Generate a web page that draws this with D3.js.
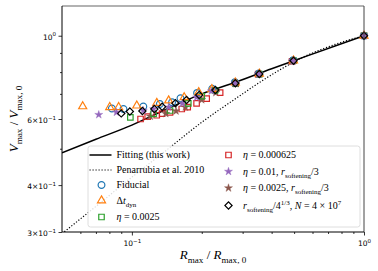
<!DOCTYPE html>
<html lang="en">
<head>
  <meta charset="UTF-8" />
  <title>Vmax - Rmax tidal track</title>
  <script src="https://cdn.jsdelivr.net/npm/d3@7"></script>
  <style>
    body { margin: 0; background: #fff; }
    text { font-family: "Liberation Serif", "DejaVu Serif", serif; }
    .tick text { font-family: "DejaVu Sans", sans-serif; font-size: 7.5px; }
  </style>
</head>
<body>
  <div class="chart"></div>
  <script>
    // fitting curve and Penarrubia et al. 2010 track
    var fitX = [0.05, 0.07, 0.1, 0.14, 0.2, 0.28, 0.4, 0.55, 0.75, 1];
    var fitY = [0.488, 0.530, 0.578, 0.636, 0.700, 0.752, 0.817, 0.877, 0.939, 1];
    var penX = [0.05, 0.07, 0.1, 0.14, 0.2, 0.28, 0.4, 0.55, 0.75, 1];
    var penY = [0.297, 0.351, 0.420, 0.494, 0.588, 0.680, 0.787, 0.878, 0.948, 1];

    // simulation runs
    var fidX = [0.082, 0.092, 0.112, 0.132, 0.149, 0.162, 0.191, 0.222, 0.278, 0.352, 0.495, 1];
    var fidY = [0.640, 0.638, 0.648, 0.658, 0.665, 0.681, 0.704, 0.722, 0.752, 0.793, 0.860, 1];
    var dtX = [0.0614, 0.0803, 0.0877, 0.105, 0.128, 0.144, 0.168, 0.194, 0.221, 0.279, 0.354, 0.497, 1];
    var dtY = [0.648, 0.645, 0.645, 0.651, 0.662, 0.672, 0.685, 0.707, 0.720, 0.750, 0.792, 0.858, 1];
    var eta1X = [0.0985, 0.124, 0.146, 0.175, 0.200, 0.228, 0.279, 0.354, 0.497, 1];
    var eta1Y = [0.606, 0.619, 0.632, 0.660, 0.690, 0.715, 0.746, 0.790, 0.858, 1];
    var eta2X = [0.109, 0.117, 0.128, 0.135, 0.146, 0.164, 0.174, 0.190, 0.210, 0.240, 0.280, 0.350, 0.490, 1];
    var eta2Y = [0.600, 0.609, 0.614, 0.620, 0.625, 0.638, 0.645, 0.660, 0.680, 0.705, 0.745, 0.790, 0.855, 1];
    var soft1X = [0.072, 0.0858, 0.112, 0.124, 0.144, 0.165, 0.190, 0.220, 0.278, 0.352, 0.495, 1];
    var soft1Y = [0.616, 0.625, 0.632, 0.638, 0.645, 0.660, 0.685, 0.712, 0.748, 0.790, 0.857, 1];
    var soft2X = [0.120, 0.140, 0.155, 0.170, 0.200, 0.230, 0.280, 0.350, 0.490, 1];
    var soft2Y = [0.610, 0.620, 0.630, 0.645, 0.675, 0.705, 0.745, 0.790, 0.855, 1];
    var hiresX = [0.090, 0.098, 0.111, 0.125, 0.135, 0.154, 0.172, 0.195, 0.229, 0.279, 0.354, 0.497, 1];
    var hiresY = [0.621, 0.628, 0.630, 0.638, 0.647, 0.661, 0.674, 0.695, 0.717, 0.747, 0.791, 0.858, 1];

    var yTickVals = [1, 0.6, 0.4, 0.3];
    var yTickLabels = [["10", "0"], ["6\u00d710", "\u22121"], ["4\u00d710", "\u22121"], ["3\u00d710", "\u22121"]];
    var xTickVals = [0.1, 1];
    var xTickLabels = [["10", "\u22121"], ["10", "0"]];

    var w = 378, h = 271;
    var margin = {left: 62, right: 14, top: 6, bottom: 39};
    var iw = w - margin.left - margin.right,
      ih = h - margin.top - margin.bottom;

    var svg = d3.select(".chart").append("svg")
      .attr("width", w)
      .attr("height", h);

    var x = d3.scaleLog().domain([0.05, 1]).range([0, iw]);
    var y = d3.scaleLog().domain([0.3, 1.2]).range([ih, 0]);

    var g = svg.append("g")
      .attr("transform", "translate(" + margin.left + "," + margin.top + ")");

    g.append("clipPath").attr("id", "clip")
      .append("rect").attr("width", iw).attr("height", ih);

    // axes: minor ticks first, then major ticks with labels
    var xMinor = [0.06, 0.07, 0.08, 0.09, 0.2, 0.3, 0.4, 0.5, 0.6, 0.7, 0.8, 0.9];
    var yMinor = [0.5, 0.7, 0.8, 0.9];

    g.append("g").attr("transform", "translate(0," + ih + ")")
      .call(d3.axisBottom(x).tickValues(xMinor).tickSize(2).tickFormat(""))
      .call(function(s) { s.select(".domain").remove(); });
    g.append("g")
      .call(d3.axisLeft(y).tickValues(yMinor).tickSize(2).tickFormat(""))
      .call(function(s) { s.select(".domain").remove(); });

    var xAxis = g.append("g").attr("transform", "translate(0," + ih + ")")
      .call(d3.axisBottom(x).tickValues(xTickVals).tickSize(3.5).tickFormat(""));
    xAxis.select(".domain").remove();
    xAxis.selectAll(".tick").append("text")
      .attr("fill", "#000")
      .attr("y", 14)
      .attr("text-anchor", "middle")
      .each(function(d, i) {
        var t = d3.select(this);
        t.append("tspan").text(xTickLabels[i][0]);
        t.append("tspan").attr("dy", -3.5).style("font-size", "5.5px").text(xTickLabels[i][1]);
      });

    var yAxis = g.append("g")
      .call(d3.axisLeft(y).tickValues(yTickVals).tickSize(3.5).tickFormat(""));
    yAxis.select(".domain").remove();
    yAxis.selectAll(".tick").append("text")
      .attr("fill", "#000")
      .attr("x", -6)
      .attr("y", 3.5)
      .attr("text-anchor", "end")
      .each(function(d, i) {
        var t = d3.select(this);
        t.append("tspan").text(yTickLabels[i][0]);
        t.append("tspan").attr("dy", -3.5).style("font-size", "5.5px").text(yTickLabels[i][1]);
      });
    svg.selectAll(".tick line").attr("stroke", "#000").attr("stroke-width", 0.8);

    // lines
    var line = d3.line()
      .x(function(d) { return x(d[0]); })
      .y(function(d) { return y(d[1]); })
      .curve(d3.curveMonotoneX);

    var plot = g.append("g").attr("clip-path", "url(#clip)");

    plot.append("path")
      .datum(d3.zip(penX, penY))
      .attr("d", line)
      .attr("fill", "none")
      .attr("stroke", "#000")
      .attr("stroke-width", 1.2)
      .attr("stroke-dasharray", "1.2,1.8");

    plot.append("path")
      .datum(d3.zip(fitX, fitY))
      .attr("d", line)
      .attr("fill", "none")
      .attr("stroke", "#000")
      .attr("stroke-width", 1.5);

    // marker shapes
    var sym = {
      circle: d3.symbol().type(d3.symbolCircle).size(36),
      triangle: d3.symbol().type(d3.symbolTriangle).size(28),
      square: d3.symbol().type(d3.symbolSquare).size(30),
      star: d3.symbol().type(d3.symbolStar).size(20),
      diamond: d3.symbol().type(d3.symbolSquare).size(26)
    };

    var series = [
      {xs: eta2X, ys: eta2Y, shape: "square", stroke: "#d62728", fill: "none"},
      {xs: soft2X, ys: soft2Y, shape: "star", stroke: "#8c564b", fill: "#8c564b"},
      {xs: eta1X, ys: eta1Y, shape: "square", stroke: "#2ca02c", fill: "none"},
      {xs: fidX, ys: fidY, shape: "circle", stroke: "#1f77b4", fill: "none"},
      {xs: dtX, ys: dtY, shape: "triangle", stroke: "#ff7f0e", fill: "none"},
      {xs: soft1X, ys: soft1Y, shape: "star", stroke: "#9467bd", fill: "#9467bd"},
      {xs: hiresX, ys: hiresY, shape: "diamond", stroke: "#000", fill: "none"}
    ];

    function rot(s) { return s == "diamond" ? " rotate(45)" : ""; }

    series.forEach(function(s) {
      g.append("g").selectAll("path")
        .data(d3.zip(s.xs, s.ys))
        .enter()
        .append("path")
        .attr("d", sym[s.shape]())
        .attr("transform", function(d) {
          return "translate(" + x(d[0]) + "," + y(d[1]) + ")" + rot(s.shape);
        })
        .attr("fill", s.fill)
        .attr("stroke", s.stroke)
        .attr("stroke-width", s.shape == "star" ? 0.4 : 1.2);
    });

    // frame
    g.append("line").attr("x1", 0).attr("x2", iw).attr("y1", 0).attr("y2", 0)
      .attr("stroke", "#999").attr("stroke-width", 1.3);
    g.append("line").attr("x1", iw).attr("x2", iw).attr("y1", 0).attr("y2", ih)
      .attr("stroke", "#444").attr("stroke-width", 1);
    g.append("line").attr("x1", 0).attr("x2", 0).attr("y1", 0).attr("y2", ih)
      .attr("stroke", "#000").attr("stroke-width", 1);
    g.append("line").attr("x1", 0).attr("x2", iw).attr("y1", ih).attr("y2", ih)
      .attr("stroke", "#000").attr("stroke-width", 1);

    // mathtext helper: pieces are [text, kind]
    function mathText(sel, pieces, size) {
      var shift = 0;
      pieces.forEach(function(p) {
        var kind = p[1] || "";
        var ts = sel.append("tspan").text(p[0]);
        var target = 0;
        if (kind.indexOf("sub") >= 0) target = size * 0.3;
        if (kind.indexOf("sup") >= 0) target = -size * 0.4;
        ts.attr("dy", target - shift);
        shift = target;
        if (kind.indexOf("sub") >= 0 || kind.indexOf("sup") >= 0) ts.style("font-size", (size * 0.7) + "px");
        if (kind.indexOf("i") === 0) ts.style("font-style", "italic");
      });
    }

    // axis labels
    var xl = svg.append("text")
      .attr("x", margin.left + iw / 2)
      .attr("y", 259)
      .attr("text-anchor", "middle")
      .style("font-size", "13px");
    mathText(xl, [["R", "i"], ["max", "sub"], [" / ", ""], ["R", "i"], ["max, 0", "sub"]], 13);

    var yl = svg.append("text")
      .attr("transform", "translate(18," + (margin.top + ih / 2) + ") rotate(-90)")
      .attr("text-anchor", "middle")
      .style("font-size", "13px");
    mathText(yl, [["V", "i"], ["max", "sub"], [" / ", ""], ["V", "i"], ["max, 0", "sub"]], 13);

    // legend
    var lg = svg.append("g");
    lg.append("rect")
      .attr("x", 88).attr("y", 146)
      .attr("width", 272).attr("height", 81)
      .attr("rx", 2.5)
      .attr("fill", "#fff").attr("fill-opacity", 0.85)
      .attr("stroke", "#d5d5d5").attr("stroke-width", 0.8);

    var legLeft = [
      {kind: "solid", label: [["Fitting (this work)", ""]]},
      {kind: "dotted", label: [["Penarrubia et al. 2010", ""]]},
      {kind: 3, label: [["Fiducial", ""]]},
      {kind: 4, label: [["\u0394", ""], ["t", "i"], ["dyn", "sub"]]},
      {kind: 2, label: [["\u03b7", "i"], [" = 0.0025", ""]]}
    ];
    var legRight = [
      {kind: 0, label: [["\u03b7", "i"], [" = 0.000625", ""]]},
      {kind: 5, label: [["\u03b7", "i"], [" = 0.01, ", ""], ["r", "i"], ["softening", "sub"], ["/3", ""]]},
      {kind: 1, label: [["\u03b7", "i"], [" = 0.0025, ", ""], ["r", "i"], ["softening", "sub"], ["/3", ""]]},
      {kind: 6, label: [["r", "i"], ["softening", "sub"], ["/4", ""], ["1/3", "sup"], [", ", ""], ["N", "i"], [" = 4 \u00d7 10", ""], ["7", "sup"]]}
    ];
    var leftRows = [155, 170, 185, 200.5, 217];
    var rightRows = [155, 171.5, 188, 205.5];

    function legendEntry(e, mx, tx, yy) {
      if (e.kind == "solid" || e.kind == "dotted") {
        lg.append("line").attr("x1", mx - 12).attr("x2", mx + 10)
          .attr("y1", yy).attr("y2", yy)
          .attr("stroke", "#000").attr("stroke-width", e.kind == "solid" ? 1.5 : 1.2)
          .attr("stroke-dasharray", e.kind == "solid" ? null : "1.2,1.8");
      } else {
        var s = series[e.kind];
        lg.append("path")
          .attr("d", sym[s.shape]())
          .attr("transform", "translate(" + mx + "," + yy + ")" + rot(s.shape))
          .attr("fill", s.fill).attr("stroke", s.stroke)
          .attr("stroke-width", s.shape == "star" ? 0.4 : 1.2);
      }
      var t = lg.append("text").attr("x", tx).attr("y", yy + 3.3).style("font-size", "10px");
      mathText(t, e.label, 10);
    }
    legLeft.forEach(function(e, i) { legendEntry(e, 101.5, 116.5, leftRows[i]); });
    legRight.forEach(function(e, i) { legendEntry(e, 228.5, 243, rightRows[i]); });
  </script>
</body>
</html>
